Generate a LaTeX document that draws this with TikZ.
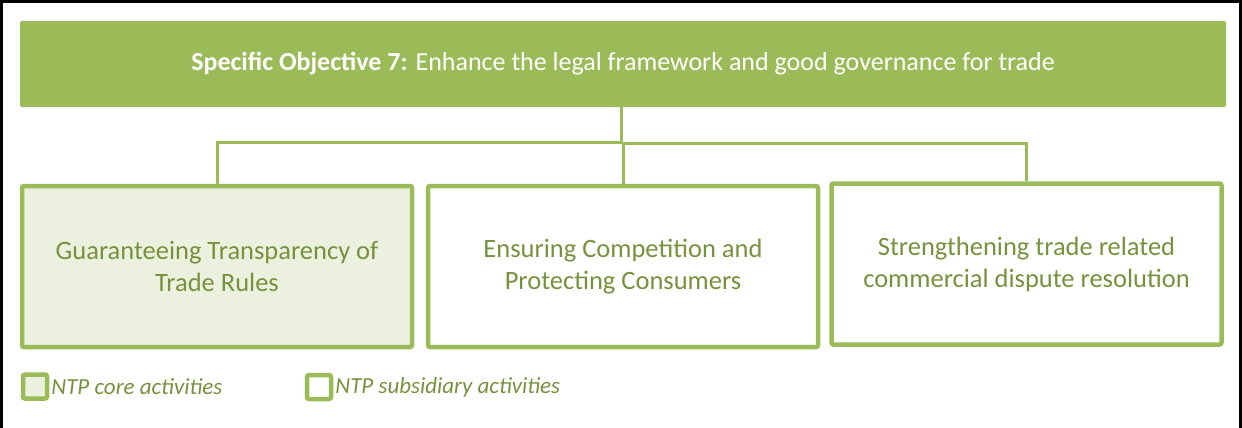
\documentclass[tikz,border=0pt]{standalone}
\usepackage{fontspec}
\setmainfont{Carlito}
\definecolor{olivegreen}{HTML}{9BBB59}
\definecolor{olivetext}{HTML}{76923C}
\definecolor{palegreen}{HTML}{EBF1DE}
\tikzset{
  areabox/.style={draw=olivegreen, line width=4.5pt, rounded corners=2pt, minimum width=390pt, minimum height=161pt, align=center, text=olivetext, font=\fontsize{26.5}{32}\selectfont},
  keybox/.style={draw=olivegreen, line width=4.5pt, rounded corners=2pt, minimum size=24pt},
  keytext/.style={anchor=west, inner sep=2pt, text=olivetext, font=\fontsize{23}{26}\selectfont\itshape},
  link/.style={draw=olivegreen, line width=3pt}
}
\begin{document}
\begin{tikzpicture}[x=1pt,y=-1pt]
\useasboundingbox (0,0) rectangle (1242,428);
\draw [line width=3pt] (1.5,428) -- (1.5,1.5) -- (1240.5,1.5) -- (1240.5,428);
\node [fill=olivegreen, rounded corners=2pt, minimum width=1206pt, minimum height=86pt, text=white, font=\fontsize{26}{30}\selectfont] (obj) at (623,64) {\textbf{Specific Objective 7:} Enhance the legal framework and good governance for trade};
\node [areabox, fill=palegreen] (core) at (217,266.5) {Guaranteeing Transparency of\\Trade Rules};
\node [areabox] (compet) at (623,266.5) {Ensuring Competition and\\Protecting Consumers};
\node [areabox] (dispute) at (1026.5,264) {Strengthening trade related\\commercial dispute resolution};
\coordinate (split) at (621,142);
\draw [link] (obj.south -| split) -- (split) -| (core.north);
\draw [link] (compet.north) |- ++(0,-40) -| (dispute.north);
\node [keybox, fill=palegreen] (corekey) at (35,386.5) {};
\node [keytext] at (corekey.east) {NTP core activities};
\node [keybox] (subkey) at (319,387) {};
\node [keytext] at (subkey.east) {NTP subsidiary activities};
\end{tikzpicture}
\end{document}
